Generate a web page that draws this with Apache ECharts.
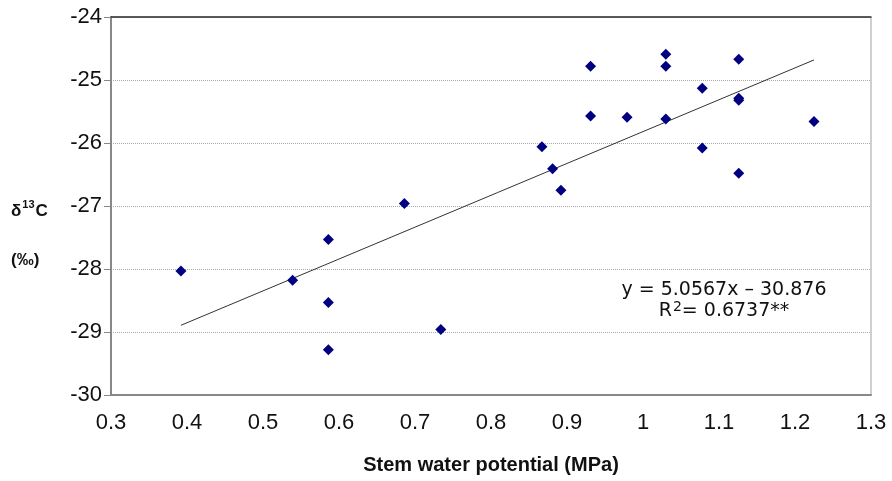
<!DOCTYPE html>
<html>
<head>
<meta charset="utf-8">
<script src="https://cdn.jsdelivr.net/npm/echarts@6/dist/echarts.min.js"></script>
<style>
html,body{margin:0;padding:0;background:#fff;}
#chart{width:892px;height:481px;}
</style>
</head>
<body>
<div id="chart"></div>
<script>
// Data
const stemWaterPotential = [0.392, 0.539, 0.586, 0.586, 0.586, 0.686, 0.734, 0.867, 0.881, 0.892, 0.931, 0.931, 0.979, 1.030, 1.030, 1.030, 1.078, 1.078, 1.126, 1.126, 1.126, 1.126, 1.225];
const delta13C =           [-28.03, -28.18, -27.53, -28.53, -29.28, -26.96, -28.96, -26.06, -26.41, -26.75, -24.78, -25.57, -25.59, -24.59, -24.78, -25.62, -25.13, -26.08, -24.67, -25.29, -25.32, -26.48, -25.66];
const regressionSlope = 5.0567;
const regressionIntercept = -30.876;
const equationText = 'y = 5.0567x \u2013 30.876';
const r2Value = '0.6737**';
const xTickMin = 0.3, xTickMax = 1.3, xTickStep = 0.1;
const yTickMin = -30, yTickMax = -24, yTickStep = 1;

const points = stemWaterPotential.map((x, i) => [x, delta13C[i]]);
const xLo = Math.min(...stemWaterPotential);
const xHi = Math.max(...stemWaterPotential);
const trend = [[xLo, regressionSlope * xLo + regressionIntercept], [xHi, regressionSlope * xHi + regressionIntercept]];

const chart = echarts.init(document.getElementById('chart'), null, {renderer: 'canvas'});
const labelFont = 'Liberation Sans, Arial, sans-serif';
chart.setOption({
  animation: false,
  backgroundColor: '#fff',
  grid: {left: 111, top: 17, right: 21, bottom: 86, show: true, borderColor: '#a0a0a0', borderWidth: 1, backgroundColor: 'transparent'},
  xAxis: [{
    type: 'value', min: xTickMin, max: xTickMax, interval: xTickStep,
    name: 'Stem water potential (MPa)', nameLocation: 'middle', nameGap: 60,
    nameTextStyle: {fontFamily: labelFont, fontSize: 20, fontWeight: 'bold', color: '#111'},
    axisLine: {show: true, onZero: false, lineStyle: {color: '#888', width: 2}},
    axisTick: {show: false},
    axisLabel: {margin: 17, fontFamily: labelFont, fontSize: 22, color: '#111'},
    splitLine: {show: false}
  }, {
    type: 'value', position: 'top', min: xTickMin, max: xTickMax, interval: xTickStep,
    axisLine: {show: true, onZero: false, lineStyle: {color: '#333', width: 1.5}},
    axisTick: {show: false}, axisLabel: {show: false}, splitLine: {show: false}
  }],
  yAxis: {
    type: 'value', min: yTickMin, max: yTickMax, interval: yTickStep,
    axisLine: {show: true, onZero: false, lineStyle: {color: '#888', width: 2}},
    axisTick: {show: true, length: 7, lineStyle: {color: '#888', width: 1}},
    axisLabel: {margin: 9, fontFamily: labelFont, fontSize: 22, color: '#111'},
    splitLine: {show: true, lineStyle: {color: '#a8a8a8', type: [1, 1], width: 1}}
  },
  graphic: [
    {type: 'text', left: 11, top: 199, style: {
      text: '{b|δ}{s|13}{b|C}',
      rich: {
        b: {fontFamily: labelFont, fontSize: 17, fontWeight: 'bold', fill: '#111', verticalAlign: 'bottom', height: 19},
        s: {fontFamily: labelFont, fontSize: 11, fontWeight: 'bold', fill: '#111', verticalAlign: 'top', height: 19, padding: [0, 1, 7, 1]}
      }}},
    {type: 'text', left: 11, top: 252, style: {
      text: '(‰)', font: 'bold 17px ' + labelFont, fill: '#111'}},
    {type: 'text', x: 724, y: 290, style: {
      text: equationText, font: '19px DejaVu Sans, sans-serif', fill: '#111', align: 'center', verticalAlign: 'middle'}},
    {type: 'text', x: 724, y: 311, style: {
      text: '{n|R}{s|2}{n|= ' + r2Value + '}', align: 'center', verticalAlign: 'middle',
      rich: {
        n: {fontFamily: 'DejaVu Sans, sans-serif', fontSize: 19, fill: '#111', height: 22},
        s: {fontFamily: 'DejaVu Sans, sans-serif', fontSize: 14, fill: '#111', height: 22, padding: [0, 0, 8, 1]}
      }}}
  ],
  series: [{
    type: 'scatter', data: points, symbol: 'diamond', symbolSize: 11,
    itemStyle: {color: '#000080', opacity: 1}, z: 3
  }, {
    type: 'line', data: trend, symbol: 'none', xAxisIndex: 0,
    lineStyle: {color: '#333', width: 1}, z: 2
  }]
});
</script>
</body>
</html>
